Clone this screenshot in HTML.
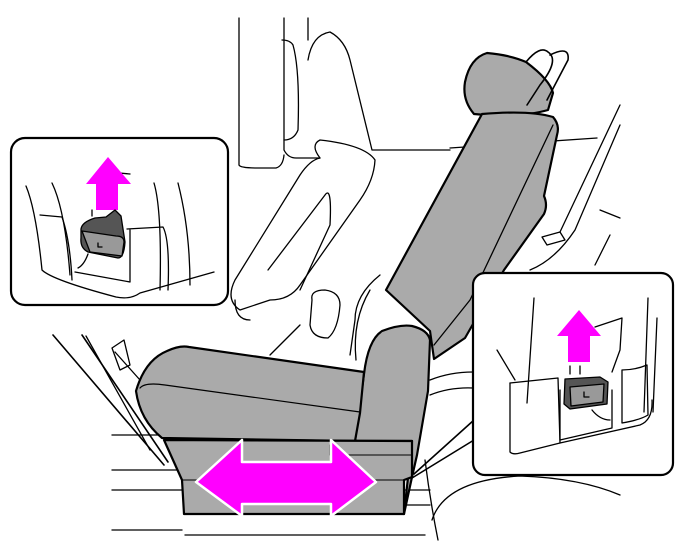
<!DOCTYPE html>
<html><head><style>html,body{margin:0;padding:0;background:#fff}svg{display:block}</style></head>
<body>
<svg width="685" height="555" viewBox="0 0 685 555" xmlns="http://www.w3.org/2000/svg" fill="none" stroke="#000" stroke-width="1.3" stroke-linejoin="round" stroke-linecap="round">
<!-- background lines -->
<path d="M239 18 V165 Q240 168 258 168 H276 Q283 166 284 155"/>
<path d="M284 18 V150 Q288 158 296 158 H320"/>
<path d="M308 18 V40"/>
<path d="M282 40 Q290 40 293 45 Q300 70 298 130 Q294 140 284 140"/>
<path d="M308 60 Q312 35 330 32 Q345 40 350 60 L372 150 H450"/>
<path d="M320 158 Q310 145 320 140 Q365 145 375 160 Q374 180 360 200 L300 285 Q290 300 270 300 L240 310 Q225 300 235 280 L300 175 Q310 160 320 158 Z"/>
<path d="M268 270 L325 195 Q332 185 330 225 L300 290"/>
<path d="M235 300 Q235 320 250 320"/>
<path d="M312 300 Q310 290 325 290 Q340 292 340 305 Q338 330 328 338 Q312 338 310 325 Z"/>
<path d="M300 325 L270 355"/>
<path d="M380 275 Q355 295 355 320 L350 355"/>
<path d="M450 148 L597 138"/>
<path d="M620 105 L560 232"/>
<path d="M620 125 L575 230 Q555 260 530 270"/>
<path d="M600 210 L620 218"/>
<path d="M610 235 L595 265"/>
<path d="M542 237 L560 232 L565 240 L547 245 Z"/>
<path d="M370 290 Q352 320 356 360"/>
<path d="M112 348 L124 340 L130 365 L120 370 Z"/>
<path d="M115 352 L140 380"/>
<path d="M86 336 L150 450"/>
<path d="M112 435 H165"/>
<path d="M112 470 H182"/>
<path d="M112 490 H182"/>
<path d="M112 530 H182"/>
<path d="M404 490 H430"/>
<path d="M404 505 H430"/>
<path d="M425 460 Q430 500 438 540"/>
<path d="M432 520 Q445 480 520 476 Q580 478 620 495"/>
<path d="M430 380 Q450 372 473 372"/>
<path d="M430 395 Q450 387 473 388"/>
<path d="M185 535 H425"/>
<!-- callout wedges -->
<path d="M53 335 L164 465" stroke-width="1.6"/>
<path d="M82 335 L168 462" stroke-width="1.6"/>
<path d="M474 420 L414 474" stroke-width="1.6"/>
<path d="M474 440 L412 478" stroke-width="1.6"/>
<!-- seat -->
<g fill="#aaaaaa" stroke-width="2.2">
<path d="M465 82 Q470 58 487 53 Q510 55 526 62 Q550 80 553 93 L548 110 Q520 118 474 114 Q462 100 465 82 Z"/>
<path d="M482 114 Q530 110 553 117 Q560 125 557 135 L544 196 Q548 205 544 214 L504 270 L465 338 L434 359 L430 331 L386 290 Z"/>
<path d="M386 290 L482 114" fill="none" stroke-width="1.3"/>
<path d="M553 125 L470 300 L434 345" fill="none" stroke-width="1.3"/>
<path d="M364 374 Q368 340 382 331 Q400 324 412 326 Q428 330 430 340 L428 391 L417 455 L412 477 L404 514 L412 441 L355 441 Z"/>
<path d="M136 391 Q145 360 167 351 Q180 345 189 347 L364 372 L360 413 L355 441 L162 438 Q140 420 136 391 Z"/>
<path d="M140 388 Q145 382 165 385 L360 412" fill="none" stroke-width="1.2"/>
<path d="M164 440 L412 441 L412 477 L404 480 L404 514 L184 514 L182 480 Z"/>
<path d="M182 480 L404 480" fill="none" stroke-width="1"/>
<path d="M330 445 V455 H412" fill="none" stroke-width="1"/>
</g>
<!-- headrest loop -->
<path d="M526 62 Q540 45 548 52 Q560 60 540 85 L527 105" stroke-width="1.6"/>
<path d="M550 55 Q570 45 568 60 L547 100" stroke-width="1.6"/>
<!-- big double arrow -->
<path d="M196 482 L242 440 V462 H331 V440 L376 482 L331 516 V504 H242 V516 Z" fill="#ff00ff" stroke="#fff" stroke-width="2.5"/>
<!-- left callout -->
<rect x="11" y="138" width="217" height="167" rx="14" fill="#fff" stroke-width="2.2"/>
<path d="M26 186 Q36 210 42 270 Q52 280 116 297 Q130 300 140 293 L214 272"/>
<path d="M52 183 Q65 210 70 275"/>
<path d="M154 183 Q162 210 160 290"/>
<path d="M178 183 Q190 230 190 285"/>
<path d="M40 215 L62 217 Q70 240 72 280"/>
<path d="M127 229 L163 227 Q170 240 168 290"/>
<path d="M75 272 L130 282 V230"/>
<path d="M108 172 L130 174"/>
<path d="M86 184 L108 157 L131 184 H118 V210 H96 V184 Z" fill="#ff00ff" stroke="none"/>
<path d="M92 210 V216"/>
<path d="M81 229 Q82 222 95 218 L106 217 L115 210 L121 216 L125 242 Q124 258 118 258 L88 252 Q80 248 81 238 Z" fill="#555" stroke-width="1.3"/>
<path d="M82 231 L116 236 Q124 236 124 242 L122 256 L90 252 Z" fill="#999"/>
<path d="M98 243 V247 H102"/>
<path d="M88 254 Q84 265 78 268"/>
<!-- right callout -->
<rect x="473" y="273" width="200" height="202" rx="12" fill="#fff" stroke-width="2.2"/>
<path d="M534 298 L527 403"/>
<path d="M648 298 L644 412"/>
<path d="M657 318 L653 412"/>
<path d="M497 350 L515 380"/>
<path d="M510 383 V452 Q513 455 520 453 L560 443 L640 425 Q653 420 652 400"/>
<path d="M510 383 L558 378 L560 443"/>
<path d="M560 390 V440 L612 428 V390"/>
<path d="M622 370 V423 Q640 420 648 415 L647 365 Q635 370 622 370"/>
<path d="M595 327 L622 318 L620 350 L612 372"/>
<path d="M557 336 L579 310 L601 336 H590 V362 H568 V336 Z" fill="#ff00ff" stroke="none"/>
<path d="M570 366 V374 M580 366 V374"/>
<path d="M565 379 L600 377 L608 382 L607 404 L570 409 L564 404 Z" fill="#555"/>
<path d="M570 387 L604 384 L603 402 L571 406 Z" fill="#999"/>
<path d="M584 392 V397 H589"/>
<path d="M592 410 Q600 420 610 420"/>
</svg>
</body></html>
